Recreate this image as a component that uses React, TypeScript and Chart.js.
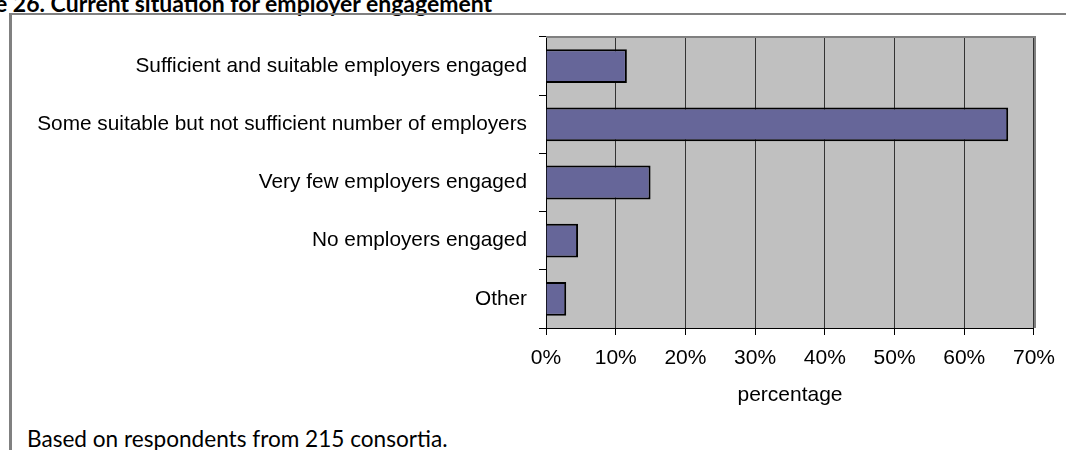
import React, { useEffect, useRef } from "react";
import { Chart, registerables } from "chart.js";

Chart.register(...registerables);

const categories: string[] = [
  "Sufficient and suitable employers engaged",
  "Some suitable but not sufficient number of employers",
  "Very few employers engaged",
  "No employers engaged",
  "Other",
];
const percentages: number[] = [11.6, 66.3, 15.0, 4.6, 2.9];
const axisMin = 0;
const axisMax = 70;
const axisStep = 10;
const axisTitle = "percentage";
const figureTitle = "e 26. Current situation for employer engagement";
const footnote = "Based on respondents from 215 consortia.";

const LABEL_FONT = "'Liberation Sans', Arial, sans-serif";

const plotBackground = {
  id: "plotBackground",
  beforeDraw(chart: any) {
    const { ctx, chartArea } = chart;
    if (!chartArea) return;
    ctx.save();
    ctx.fillStyle = "#C0C0C0";
    ctx.fillRect(chartArea.left, chartArea.top, chartArea.right - chartArea.left, chartArea.bottom - chartArea.top);
    ctx.restore();
  },
  afterDraw(chart: any) {
    const { ctx, chartArea } = chart;
    if (!chartArea) return;
    ctx.save();
    ctx.strokeStyle = "#808080";
    ctx.lineWidth = 2;
    ctx.beginPath();
    ctx.moveTo(chartArea.left, chartArea.top);
    ctx.lineTo(chartArea.right + 1, chartArea.top);
    ctx.lineTo(chartArea.right + 1, chartArea.bottom);
    ctx.stroke();
    ctx.restore();
  },
};

export default function App() {
  const canvasRef = useRef<HTMLCanvasElement | null>(null);

  useEffect(() => {
    if (!canvasRef.current) return;
    const chart = new Chart(canvasRef.current, {
      type: "bar",
      data: {
        labels: categories,
        datasets: [
          {
            data: percentages,
            backgroundColor: "#666699",
            borderColor: "#000000",
            borderWidth: 2,
            barPercentage: 0.58,
            categoryPercentage: 1,
          },
        ],
      },
      options: {
        indexAxis: "y",
        animation: false,
        responsive: false,
        maintainAspectRatio: false,
        layout: { padding: { top: 37, right: 28, left: 0, bottom: 0 } },
        plugins: {
          legend: { display: false },
          tooltip: { enabled: false },
        },
        scales: {
          x: {
            min: axisMin,
            max: axisMax,
            afterFit: (scale: any) => {
              scale.height = 122;
            },
            ticks: {
              stepSize: axisStep,
              callback: (v: any) => `${v}%`,
              color: "#000",
              font: { family: LABEL_FONT, size: 21 },
              padding: 11,
              maxRotation: 0,
            },
            grid: {
              color: "#333333",
              lineWidth: 1,
              tickLength: 7,
              tickColor: "#000",
            },
            border: { display: true, color: "#000", width: 1 },
            title: {
              display: true,
              text: axisTitle,
              color: "#000",
              font: { family: LABEL_FONT, size: 21 },
              padding: { top: 0, bottom: 42 },
            },
          },
          y: {
            afterFit: (scale: any) => {
              scale.width = 546;
            },
            ticks: {
              color: "#000",
              font: { family: LABEL_FONT, size: 20.8 },
              padding: 12,
            },
            grid: {
              drawOnChartArea: false,
              tickLength: 7,
              tickColor: "#000",
              offset: true,
            },
            border: { display: true, color: "#000", width: 1 },
          },
        },
      },
      plugins: [plotBackground],
    } as any);
    return () => chart.destroy();
  }, []);

  return (
    <div
      style={{
        position: "fixed",
        left: 0,
        top: 0,
        width: 1066,
        height: 450,
        overflow: "hidden",
        background: "#fff",
      }}
    >
      <div
        style={{
          position: "absolute",
          left: -5,
          top: -8,
          fontFamily: "Lato, 'Open Sans', sans-serif",
          fontWeight: 700,
          fontSize: 23,
          lineHeight: "23px",
          whiteSpace: "nowrap",
          color: "#000",
        }}
      >
        {figureTitle}
      </div>
      <div
        style={{
          position: "absolute",
          left: 9,
          top: 13,
          width: 1100,
          height: 500,
          borderLeft: "3px solid #808080",
          borderTop: "2px solid #808080",
        }}
      />
      <div
        style={{
          position: "absolute",
          left: 27,
          top: 426,
          fontFamily: "Lato, 'Open Sans', sans-serif",
          fontSize: 22.6,
          lineHeight: "26px",
          whiteSpace: "nowrap",
          color: "#000",
        }}
      >
        {footnote}
      </div>
      <canvas
        ref={canvasRef}
        width={1066}
        height={450}
        style={{ position: "absolute", left: 0, top: 0, width: 1066, height: 450 }}
      />
    </div>
  );
}
